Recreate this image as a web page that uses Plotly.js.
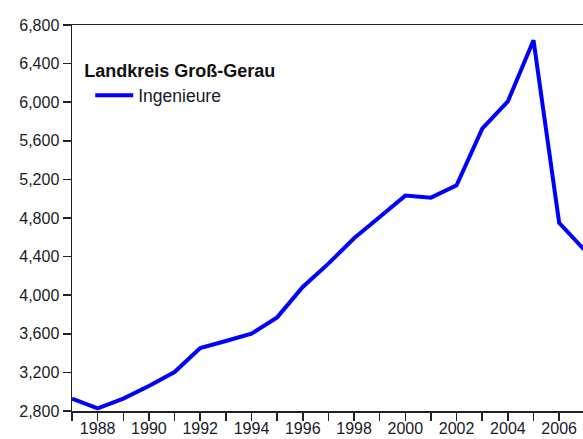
<!DOCTYPE html>
<html>
<head>
<meta charset="utf-8">
<script src="https://cdn.plot.ly/plotly-3.0.1.min.js"></script>
<style>html,body{margin:0;padding:0;background:#fff;}#chart{width:583px;height:439px;}</style>
</head>
<body>
<div id="chart"></div>
<script>
var years = [1987,1988,1989,1990,1991,1992,1993,1994,1995,1996,1997,1998,1999,2000,2001,2002,2003,2004,2005,2006,2007];
var ingenieure = [2928,2828,2928,3059,3204,3453,3525,3602,3770,4085,4327,4590,4810,5032,5011,5139,5726,6009,6641,4750,4465];
var xTickVals = [1987,1988,1989,1990,1991,1992,1993,1994,1995,1996,1997,1998,1999,2000,2001,2002,2003,2004,2005,2006,2007];
var xTickText = ["","1988","","1990","","1992","","1994","","1996","","1998","","2000","","2002","","2004","","2006",""];
var yTickVals = [2800,3200,3600,4000,4400,4800,5200,5600,6000,6400,6800];
var seriesName = "Ingenieure";
var legendTitle = "Landkreis Groß-Gerau";

var trace = {
  x: years, y: ingenieure, type: 'scatter', mode: 'lines', name: seriesName,
  line: {color: '#0000ff', width: 4}
};
var layout = {
  width: 583, height: 439,
  margin: {l: 72, r: 0, t: 25, b: 28, pad: 0},
  paper_bgcolor: '#fff', plot_bgcolor: '#fff',
  font: {family: 'Liberation Sans, Arial, sans-serif', size: 16, color: '#1a1a2a'},
  showlegend: true,
  legend: {
    x: 0.02, y: 0.925, xanchor: 'left', yanchor: 'top',
    bgcolor: 'rgba(0,0,0,0)', borderwidth: 0,
    font: {size: 17.5, color: '#1a1a2a'},
    title: {text: '<b>' + legendTitle + '</b>', font: {size: 18, color: '#111'}},
    indentation: 8,
    itemwidth: 38
  },
  xaxis: {
    range: [1987, 2006.93], tickvals: xTickVals, ticktext: xTickText,
    showgrid: false, zeroline: false,
    showline: true, linecolor: '#222', linewidth: 1.5, mirror: true,
    ticks: 'outside', ticklen: 8, tickcolor: '#222', tickwidth: 1.5,
    ticklabelstandoff: -6,
    tickfont: {size: 16}
  },
  yaxis: {
    range: [2800, 6800], tickvals: yTickVals, tickformat: ',d',
    showgrid: false, zeroline: false,
    showline: true, linecolor: '#222', linewidth: 1.5,
    ticks: 'outside', ticklen: 8, tickcolor: '#222', tickwidth: 1.5,
    tickfont: {size: 16}
  }
};
Plotly.newPlot('chart', [trace], layout, {displayModeBar: false, staticPlot: true});
</script>
</body>
</html>
